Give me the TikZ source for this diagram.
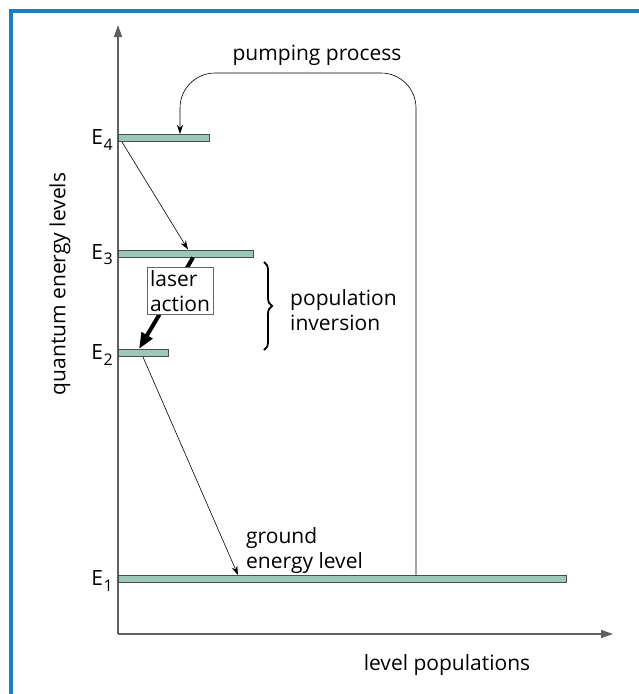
\documentclass[tikz,border=0pt]{standalone}
\usepackage{fontspec}
\setmainfont{Open Sans}
\usetikzlibrary{arrows.meta,decorations.pathreplacing}
\definecolor{levelgreen}{RGB}{155,200,184}
\definecolor{frameblue}{RGB}{22,128,200}
\definecolor{axisgray}{RGB}{95,95,95}
\newcommand\txtsize{\fontsize{21}{25}\selectfont}
\newcommand\En[1]{E\kern.5pt\raisebox{-.45ex}{\fontsize{16}{16}\selectfont#1}}
\tikzset{
  bar/.style={draw=black!70,fill=levelgreen,line width=1pt,minimum height=7pt,
    inner sep=0pt,anchor=west},
  lvl/.style={anchor=east,inner sep=0pt,font=\txtsize},
  txt/.style={align=left,inner sep=0pt,font=\txtsize},
  thin arrow/.style={-{Stealth[length=9pt,width=6pt]},line width=.6pt},
}

\begin{document}
\begin{tikzpicture}[x=1pt,y=-1pt]
\useasboundingbox (0,0) rectangle (639,694);
\draw[frameblue,line width=3.5pt] (11,694) -- (11,11) -- (639,11);

\draw[axisgray,line width=1.4pt,-{Triangle[length=12pt,width=8pt]}] (118,634) -- (118,25);
\draw[axisgray,line width=1.4pt,-{Triangle[length=12pt,width=8pt]}] (118,634) -- (613,634);

\node[bar,minimum width=91pt] (e4) at (118,138) {};
\node[bar,minimum width=135pt] (e3) at (118,253.5) {};
\node[bar,minimum width=50pt] (e2) at (118,353) {};
\node[bar,minimum width=448pt] (e1) at (118,579) {};

\node[lvl] (l4) at (113,140) {\En4};
\node[lvl] (l3) at (113,255) {\En3};
\node[lvl] (l2) at (113,355) {\En2};
\node[lvl] (l1) at (113,581) {\En1};

\node[rotate=90,font=\txtsize] (yaxis) at (60,284) {quantum energy levels};
\node[font=\txtsize] (xaxis) at (447,665) {level populations};
\node[font=\txtsize] (pump) at (317,55) {pumping process};
\node[txt,anchor=west] (inv) at (290,310) {population\\inversion};
\node[txt,anchor=west] (ground) at (246,551) {ground\\energy level};

\coordinate (top) at (180,73);
\draw[thin arrow,rounded corners=35pt] ([xshift=298pt]e1.north west) |- (top)
  -- ([xshift=62pt]e4.north west);
\draw[thin arrow] ([xshift=4pt]e4.south west) -- ([xshift=70pt]e3.north west);
\draw[thin arrow] ([xshift=25pt]e2.south west) -- ([xshift=120pt]e1.north west);

\draw[line width=4pt,-{Triangle[length=16pt,width=12pt]}]
  ([xshift=75pt]e3.south west) -- ([xshift=21pt]e2.north west);
\node[txt,draw=black!60,fill=white,line width=.8pt,inner sep=3pt,align=left]
  (laser) at (180,291) {laser\\action};

\draw[decorate,decoration={brace,amplitude=8pt},line width=1.8pt] (264,262) -- (264,350);
\end{tikzpicture}
\end{document}
